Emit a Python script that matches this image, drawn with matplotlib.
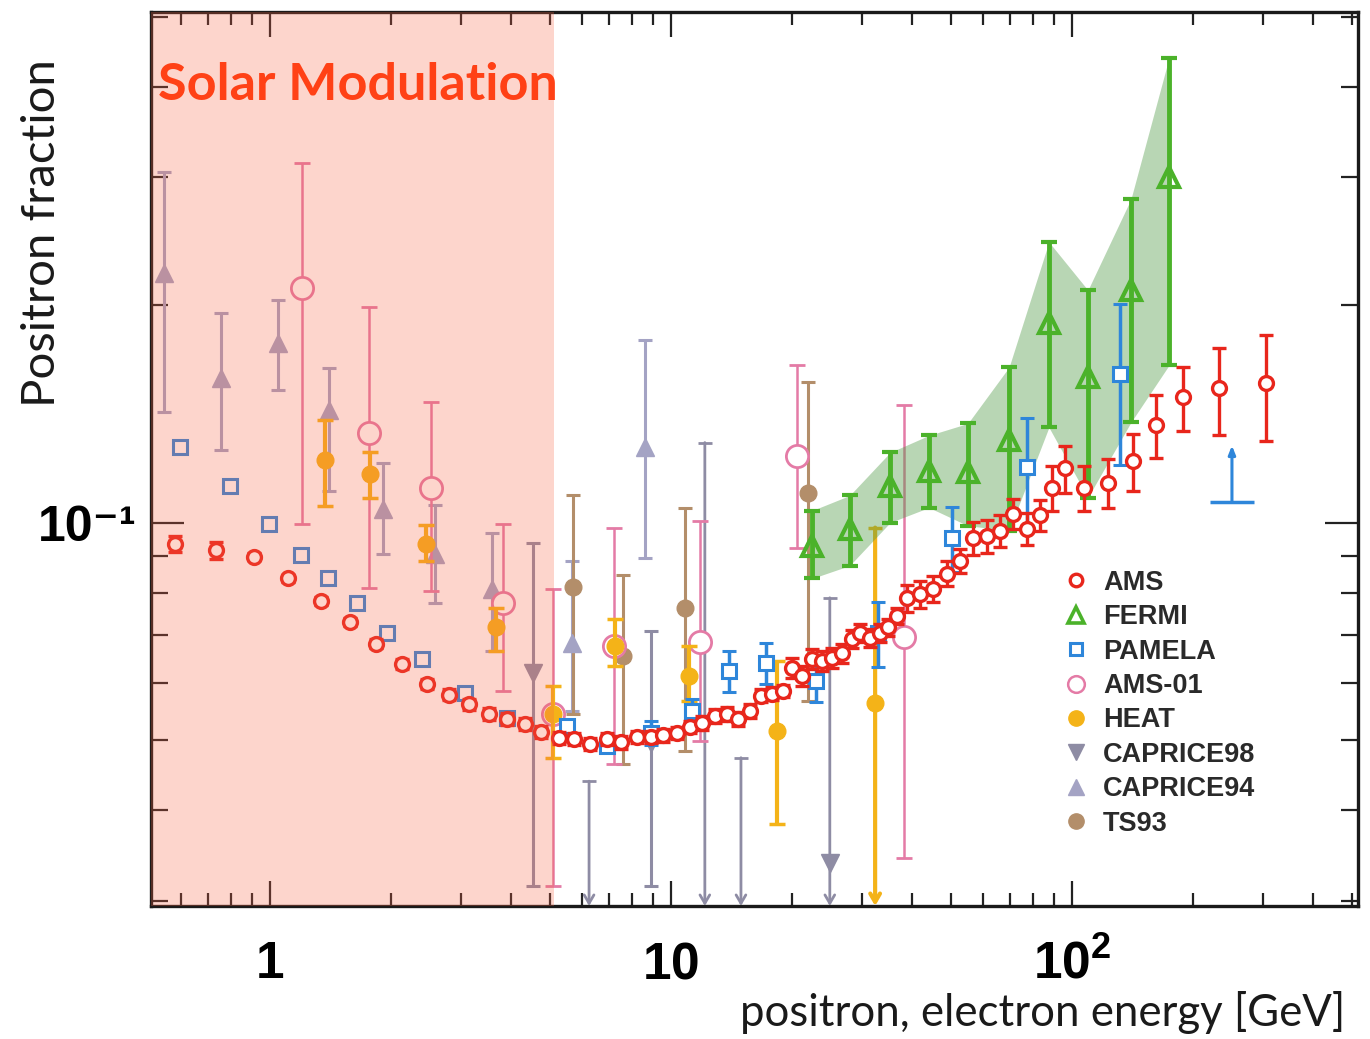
import numpy as np
import matplotlib
matplotlib.use("Agg")
import matplotlib.pyplot as plt
from matplotlib.lines import Line2D
from matplotlib.ticker import FixedLocator, FixedFormatter, LogLocator, NullFormatter

plt.rcParams['font.family'] = ['Liberation Sans', 'DejaVu Sans']
plt.rcParams['mathtext.fontset'] = 'custom'
plt.rcParams['mathtext.bf'] = 'Liberation Sans:bold'
plt.rcParams['mathtext.rm'] = 'Liberation Sans'

# ---- data (energy in GeV, positron fraction) ----
ams_e = [0.58, 0.733, 0.912, 1.109, 1.34, 1.583, 1.838, 2.134, 2.464, 2.79,
         3.13, 3.52, 3.90, 4.32, 4.74, 5.26, 5.73, 6.28, 6.92, 7.50,
         8.23, 8.91, 9.55, 10.35, 11.15, 11.95, 12.88, 13.8, 14.7, 15.74,
         16.76, 17.86, 19.0, 20.0, 21.2, 22.5, 23.8, 25.2, 26.7, 28.3,
         29.6, 31.3, 33.2, 34.8, 36.6, 38.8, 41.8, 45.0, 48.8, 52.6,
         56.6, 61.4, 66.1, 71.2, 77.2, 83.2, 89.1, 96.1, 107.2, 123,
         142, 162, 189, 233, 305]
ams_f = [0.0935, 0.0915, 0.0897, 0.0837, 0.078, 0.0729, 0.068, 0.0638, 0.0598, 0.0578,
         0.0561, 0.0544, 0.0535, 0.0527, 0.0513, 0.0504, 0.0502, 0.0494, 0.0502, 0.0497,
         0.0505, 0.0505, 0.0508, 0.0512, 0.0522, 0.0528, 0.0540, 0.0544, 0.0535, 0.0549,
         0.0576, 0.058, 0.0585, 0.063, 0.0614, 0.0648, 0.0644, 0.065, 0.066, 0.0691,
         0.0704, 0.0693, 0.0704, 0.0716, 0.0743, 0.0787, 0.0797, 0.081, 0.085, 0.0886,
         0.0953, 0.0959, 0.0975, 0.1029, 0.0981, 0.1023, 0.1118, 0.1188, 0.1118, 0.1136,
         0.1215, 0.1363, 0.149, 0.1533, 0.1558]
ams_err = [0.0024, 0.0024, 0.001, 0.001, 0.001, 0.001, 0.001, 0.001, 0.001, 0.001,
           0.001, 0.001, 0.001, 0.001, 0.001, 0.001, 0.001, 0.001, 0.001, 0.001,
           0.001, 0.001, 0.001, 0.001, 0.001, 0.0012, 0.0012, 0.0012, 0.0012, 0.0012,
           0.0012, 0.0012, 0.0012, 0.002, 0.002, 0.002, 0.002, 0.002, 0.002, 0.002,
           0.002, 0.002, 0.002, 0.002, 0.002, 0.0034, 0.0034, 0.0034, 0.0034, 0.0034,
           0.005, 0.005, 0.005, 0.005, 0.005, 0.005, 0.008, 0.009, 0.008, 0.009,
           0.011, 0.0136, 0.015, 0.021, 0.026]

fermi_e = [22.5, 27.9, 35.2, 44.0, 55.0, 69.7, 87.6, 109.6, 140.3, 174.6]
fermi_f = [0.0929, 0.0981, 0.1125, 0.118, 0.1173, 0.130, 0.1886, 0.1588, 0.2096, 0.3005]
fermi_hi = [0.1039, 0.109, 0.125, 0.132, 0.1371, 0.164, 0.2443, 0.2096, 0.280, 0.439]
fermi_lo = [0.0837, 0.0872, 0.100, 0.1049, 0.099, 0.0975, 0.1354, 0.1083, 0.1376, 0.165]

pamela_e = [0.596, 0.795, 0.994, 1.195, 1.395, 1.648, 1.958, 2.394, 3.064, 3.90,
            5.50, 6.92, 8.91, 11.28, 13.95, 17.25, 23.0, 32.8, 50.2, 77.2, 131.7]
pamela_f = [0.127, 0.1125, 0.0997, 0.0903, 0.0839, 0.0775, 0.0704, 0.0648, 0.0581, 0.0537,
            0.0523, 0.0491, 0.0512, 0.0549, 0.0624, 0.064, 0.0604, 0.0704, 0.0953, 0.1192, 0.1603]
pamela_err = [0, 0, 0, 0, 0, 0, 0, 0, 0, 0,
              0, 0, 0.002, 0.0021, 0.0041, 0.0042, 0.004, 0.0073, 0.0099, 0.0205, 0.040]
pamela_lim_e = 250.6
pamela_lim_f = 0.1066
pamela_lim_top = 0.1278
pamela_lim_xlo = 221
pamela_lim_xhi = 285

ams01_e = [1.20, 1.766, 2.52, 3.81, 5.08, 7.21, 11.81, 20.6, 38.1]
ams01_f = [0.211, 0.1332, 0.1118, 0.0775, 0.0544, 0.0675, 0.0684, 0.1238, 0.0695]
ams01_hi = [0.314, 0.1986, 0.1466, 0.0997, 0.081, 0.0984, 0.1006, 0.165, 0.1452]
ams01_lo = [0.0997, 0.0813, 0.0805, 0.0585, 0.0314, 0.0464, 0.0499, 0.0923, 0.0344]

heat_e = [1.37, 1.776, 2.45, 3.66, 5.08, 7.25, 11.09, 18.38]
heat_f = [0.1219, 0.1169, 0.0935, 0.0716, 0.0543, 0.0675, 0.0614, 0.0515]
heat_hi = [0.1385, 0.125, 0.0991, 0.0763, 0.0595, 0.0736, 0.0675, 0.0644]
heat_lo = [0.1055, 0.1083, 0.0886, 0.0665, 0.0473, 0.0634, 0.0567, 0.0383]
heat_lim_e = [32.3]
heat_lim_f = [0.0563]
heat_lim_top = [0.0984]

c98_e = [4.53, 8.91]
c98_f = [0.062, 0.0496]
c98_hi = [0.0938, 0.0709]
c98_lo = [0.0314, 0.0314]
c98_lim_e = [6.25, 12.15, 14.95, 24.9]
c98_lim_top = [0.0439, 0.129, 0.0473, 0.0787]
c98_lim_pt = [24.9, 0.0338]

c94_e = [0.544, 0.755, 1.047, 1.403, 1.913, 2.58, 3.58, 5.66, 8.61]
c94_f = [0.2212, 0.1582, 0.177, 0.143, 0.1045, 0.0906, 0.081, 0.0682, 0.127]
c94_hi = [0.3053, 0.1948, 0.203, 0.1634, 0.1207, 0.1056, 0.0966, 0.0886, 0.1787]
c94_lo = [0.142, 0.1258, 0.1523, 0.1107, 0.0906, 0.0775, 0.0665, 0.0549, 0.0894]

ts93_e = [5.69, 7.59, 10.84, 21.96]
ts93_f = [0.0815, 0.0654, 0.0763, 0.1097]
ts93_hi = [0.109, 0.0845, 0.1046, 0.1563]
ts93_lo = [0.0544, 0.0464, 0.0483, 0.0567]

solar_edge = 5.1
x_range = (0.504, 517)
y_range = (0.0295, 0.508)

red = '#E8261C'
green = '#4BB22A'
blue = '#2E86DA'
pink = '#E47BA6'
gold = '#F4B318'
grey98 = '#8E8CA4'
grey94 = '#A4A3C4'
tan = '#B38E6A'


def asym(f, lo, hi):
    f = np.array(f)
    return [f - np.array(lo), np.array(hi) - f]


fig = plt.figure(figsize=(13.7, 10.39), dpi=100)
ax = fig.add_axes([0.1099, 0.128, 0.8814, 0.8604])
ax.set_xscale('log')
ax.set_yscale('log')
ax.set_xlim(*x_range)
ax.set_ylim(*y_range)

# thin-bar data sets
ax.errorbar(c94_e, c94_f, yerr=asym(c94_f, c94_lo, c94_hi), fmt='^', color=grey94,
            ms=13, elinewidth=2.2, capsize=5, capthick=2.2, zorder=2)
ax.errorbar(c98_e, c98_f, yerr=asym(c98_f, c98_lo, c98_hi), fmt='v', color=grey98,
            ms=13, elinewidth=2.2, capsize=5, capthick=2.2, zorder=2)
ax.plot([c98_lim_pt[0]], [c98_lim_pt[1]], 'v', color=grey98, ms=13, zorder=2)
for e, top in zip(c98_lim_e, c98_lim_top):
    ax.plot([e], [top], '_', color=grey98, ms=10, mew=2, zorder=2)
    ax.annotate('', xy=(e, y_range[0]), xytext=(e, top),
                arrowprops=dict(arrowstyle='->,head_length=0.6,head_width=0.35',
                                color=grey98, lw=2, shrinkA=0, shrinkB=0), zorder=2)
ax.errorbar(ts93_e, ts93_f, yerr=asym(ts93_f, ts93_lo, ts93_hi), fmt='o', color=tan,
            ms=12, elinewidth=2.2, capsize=5, capthick=2.2, zorder=2)
ax.errorbar(ams01_e, ams01_f, yerr=asym(ams01_f, ams01_lo, ams01_hi), fmt='o', color=pink,
            mfc='white', ms=16, mew=2, elinewidth=1.8, capsize=6, capthick=1.8, zorder=2.2)
ax.errorbar(heat_e, heat_f, yerr=asym(heat_f, heat_lo, heat_hi), fmt='o', color=gold,
            ms=12, elinewidth=3, capsize=6, capthick=2.5, zorder=2.5)
ax.plot(heat_lim_e, heat_lim_f, 'o', color=gold, ms=12, zorder=2.5)
for e, top in zip(heat_lim_e, heat_lim_top):
    ax.plot([e], [top], '_', color=gold, ms=10, mew=2.5, zorder=2.5)
    ax.annotate('', xy=(e, y_range[0]), xytext=(e, top),
                arrowprops=dict(arrowstyle='->,head_length=0.6,head_width=0.35',
                                color=gold, lw=3, shrinkA=0, shrinkB=0), zorder=2.5)

# FERMI band
ax.fill_between(fermi_e, fermi_lo, fermi_hi, color='#4E9A45', alpha=0.4, lw=0, zorder=3)

ax.errorbar(pamela_e, pamela_f, yerr=pamela_err, fmt='s', color=blue, mfc='white',
            ms=10, mew=2.2, elinewidth=2.5, capsize=5, capthick=2.5, zorder=4)
ax.errorbar([pamela_lim_e], [pamela_lim_f],
            xerr=[[pamela_lim_e - pamela_lim_xlo], [pamela_lim_xhi - pamela_lim_e]],
            fmt='none', ecolor=blue, elinewidth=2.5, zorder=4)
ax.annotate('', xy=(pamela_lim_e, pamela_lim_top), xytext=(pamela_lim_e, pamela_lim_f),
            arrowprops=dict(arrowstyle='-|>,head_length=0.5,head_width=0.2',
                            color=blue, lw=2.2, shrinkA=0, shrinkB=0), zorder=4)

ax.errorbar(fermi_e, fermi_f, yerr=asym(fermi_f, fermi_lo, fermi_hi), fmt='^', color=green,
            mfc='none', ms=15, mew=3, elinewidth=3.5, capsize=6, capthick=3, zorder=4.5)
ax.errorbar(ams_e, ams_f, yerr=ams_err, fmt='o', color=red, mfc='white',
            ms=10, mew=2.4, elinewidth=2.4, capsize=5, capthick=2.4, zorder=5)

# solar modulation region
ax.axvspan(0.3, solar_edge, color='#F86446', alpha=0.27, lw=0, zorder=8)
ax.text(0.006, 0.9015, 'Solar Modulation', transform=ax.transAxes, family='Lato',
        fontweight='bold', fontsize=37.5, color='#FF4116', zorder=9)

# axes styling
for s in ax.spines.values():
    s.set_linewidth(2.4)
    s.set_color('#1a1a1a')
ax.tick_params(which='both', direction='in', top=True, right=True, color='#222222')
ax.tick_params(axis='x', which='major', length=18, width=1.6, pad=52, labelsize=37)
ax.tick_params(axis='x', which='minor', length=9.5, width=1.6)
ax.tick_params(axis='y', which='major', length=24, width=1.6, pad=10, labelsize=36)
ax.tick_params(axis='y', which='minor', length=12, width=1.6)

ax.xaxis.set_major_locator(FixedLocator([1, 10, 100]))
ax.xaxis.set_major_formatter(FixedFormatter([r'$\mathbf{1}$', r'$\mathbf{10}$', r'$\mathbf{10^{2}}$']))
ax.xaxis.set_minor_locator(LogLocator(base=10, subs=np.arange(2, 10)))
ax.xaxis.set_minor_formatter(NullFormatter())
ax.yaxis.set_major_locator(FixedLocator([0.1]))
ax.yaxis.set_major_formatter(FixedFormatter(['10\u207b\u00b9']))
ax.yaxis.set_minor_locator(LogLocator(base=10, subs=np.arange(2, 10)))
ax.yaxis.set_minor_formatter(NullFormatter())
for lab in ax.get_xticklabels():
    lab.set_va('baseline')
for lab in ax.get_yticklabels():
    lab.set_fontweight('bold')

fig.text(0.9818, 0.0125, 'positron, electron energy [GeV]', ha='right', va='baseline',
         family='Lato', fontsize=31.5, color='#1a1a1a')
fig.text(0.031, 0.776, 'Positron fraction', rotation=90, ha='center', va='center',
         family='Lato', fontsize=34, color='#1a1a1a')

handles = [
    Line2D([], [], ls='none', marker='o', color=red, mfc='white', ms=9, mew=2.4),
    Line2D([], [], ls='none', marker='^', color=green, mfc='white', ms=12, mew=2.6),
    Line2D([], [], ls='none', marker='s', color=blue, mfc='white', ms=9, mew=2.2),
    Line2D([], [], ls='none', marker='o', color=pink, mfc='white', ms=12, mew=1.8),
    Line2D([], [], ls='none', marker='o', color=gold, ms=11),
    Line2D([], [], ls='none', marker='v', color=grey98, ms=12),
    Line2D([], [], ls='none', marker='^', color=grey94, ms=12),
    Line2D([], [], ls='none', marker='o', color=tan, ms=11),
]
labels = ['AMS', 'FERMI', 'PAMELA', 'AMS-01', 'HEAT', 'CAPRICE98', 'CAPRICE94', 'TS93']
leg = ax.legend(handles, labels, loc='upper left', bbox_to_anchor=(0.755, 0.376),
                frameon=False, fontsize=19.5, labelspacing=0.31, handlelength=1.0,
                handletextpad=0.5, borderpad=0, borderaxespad=0)
for t in leg.get_texts():
    t.set_fontweight('bold')
    t.set_color('#2a2a2a')
leg.set_zorder(9)

fig.savefig('out.png', dpi=100)
